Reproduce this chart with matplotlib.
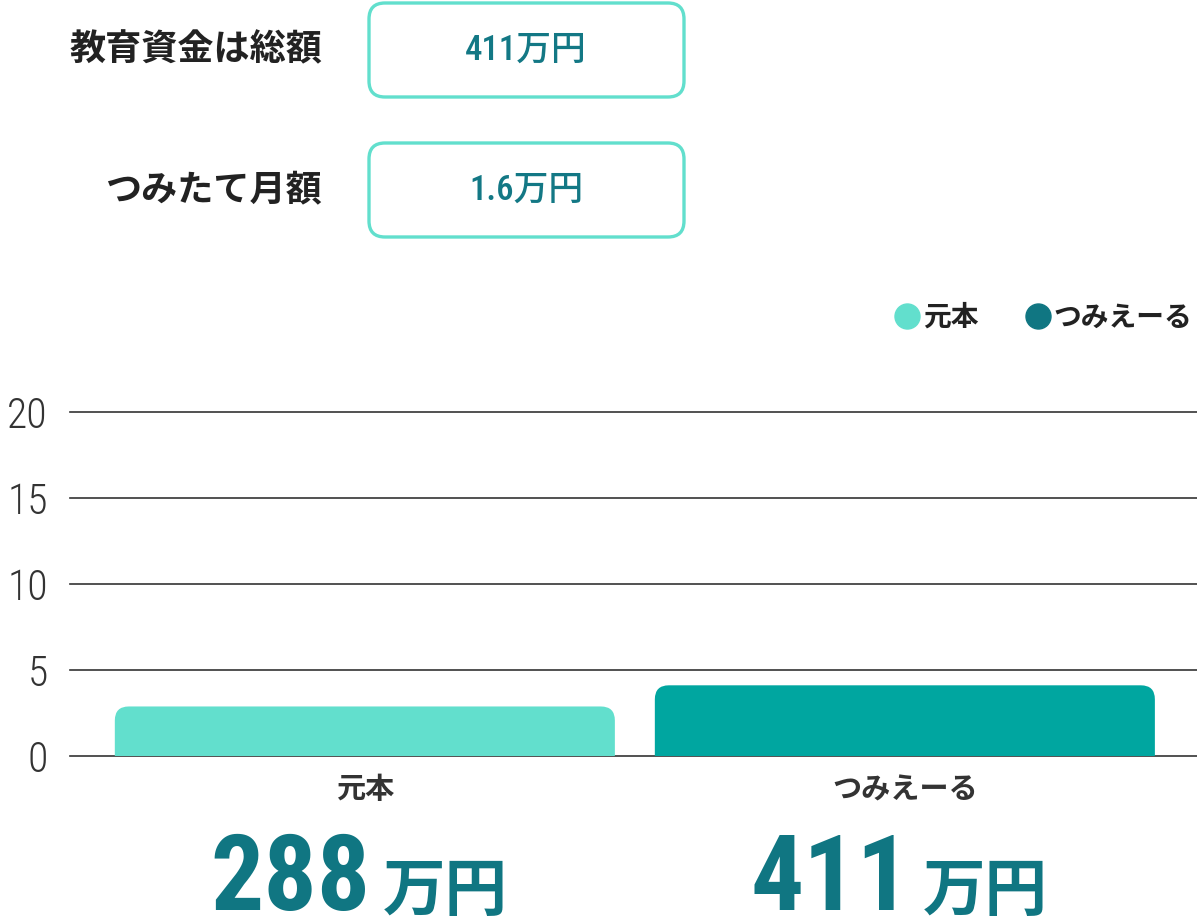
import matplotlib
matplotlib.use("Agg")
import matplotlib.pyplot as plt
from matplotlib.patches import FancyBboxPatch
from matplotlib.lines import Line2D

# data
categories = ["元本", "つみえーる"]
values = [2.88, 4.11]          # 単位: 百万円
value_labels = ["288", "411"]
unit_label = "万円"
yticks = [0, 5, 10, 15, 20]
info_labels = ["教育資金は総額", "つみたて月額"]
info_values = ["411万円", "1.6万円"]

bar_colors = ["#62dfcd", "#00a6a0"]
legend_colors = ["#62dfcd", "#107682"]
teal_text = "#137885"
dark = "#222222"

JP = ["Noto Sans CJK JP", "DejaVu Sans"]
COND = ["Roboto Condensed", "Noto Sans CJK JP", "DejaVu Sans"]
plt.rcParams["font.family"] = JP

W, H = 1197, 922
fig = plt.figure(figsize=(W / 100, H / 100), dpi=100)

# main axes in pixel layout: x 70..1197, y 412..756
ax = fig.add_axes([70 / W, (H - 756) / H, (W - 70) / W, 344 / H])
ax.set_xlim(-0.546, 1.541)
ax.set_ylim(0, 20)
for s in ax.spines.values():
    s.set_visible(False)
ax.set_yticks(yticks)
ax.set_yticklabels([str(t) for t in yticks], family=COND, fontweight=300, fontsize=30,
                   color="#333333")
ax.tick_params(axis="y", length=0, pad=16)
ax.set_xticks(range(len(categories)))
ax.set_xticklabels(categories, fontsize=21, fontweight="bold", color="#333333")
ax.tick_params(axis="x", length=0, pad=13)
ax.yaxis.grid(True, color="#333333", linewidth=1.2)
for gl in ax.get_ygridlines():
    gl.set_clip_on(False)
    gl.set_zorder(3)

# pixels per data unit, for rounded corners
fig.canvas.draw()
p0 = ax.transData.transform((0, 0))
p1 = ax.transData.transform((1, 1))
px_x = p1[0] - p0[0]
px_y = p1[1] - p0[1]
bw = 0.926
r = 14 / px_x
for i, v in enumerate(values):
    bar = FancyBboxPatch((i - bw / 2, -2), bw, v + 2,
                         boxstyle=f"round,pad=0,rounding_size={r}",
                         mutation_aspect=px_x / px_y,
                         facecolor=bar_colors[i], edgecolor="none", zorder=2)
    ax.add_patch(bar)
    ax.annotate(value_labels[i], xy=(i, 0), xytext=(6, -154), textcoords="offset pixels",
                ha="right", va="baseline", family=COND, fontweight="bold",
                fontsize=76, color="#107682", annotation_clip=False)
    ax.annotate(unit_label, xy=(i, 0), xytext=(18, -154), textcoords="offset pixels",
                ha="left", va="baseline", fontweight="bold",
                fontsize=45, color="#107682", annotation_clip=False)

# overlay in pixel coords for the input boxes
ov = fig.add_axes([0, 0, 1, 1])
ov.set_xlim(0, W)
ov.set_ylim(H, 0)
ov.axis("off")
for k, (lab, val) in enumerate(zip(info_labels, info_values)):
    cy = 50 + 140 * k
    ov.text(322, cy, lab, ha="right", va="center", fontsize=26, fontweight="bold", color=dark)
    box = FancyBboxPatch((369, cy - 47), 315, 94, boxstyle="round,pad=0,rounding_size=16",
                         facecolor="white", edgecolor="#62dfcd", linewidth=2.4)
    ov.add_patch(box)
    ov.text(526, cy, val, ha="center", va="center", family=COND, fontweight=500, fontsize=25,
            color=teal_text)

handles = [Line2D([], [], marker="o", linestyle="", markersize=18, color=c) for c in legend_colors]
leg = fig.legend(handles, categories, loc="center right", bbox_to_anchor=(1192 / W, 1 - 318 / H),
                 ncol=2, frameon=False, handlelength=0.9, handletextpad=0.1, columnspacing=1.7,
                 borderaxespad=0, borderpad=0,
                 prop={"family": JP, "size": 20, "weight": "bold"})
for t in leg.get_texts():
    t.set_color(dark)

fig.savefig("out.png", dpi=100)
